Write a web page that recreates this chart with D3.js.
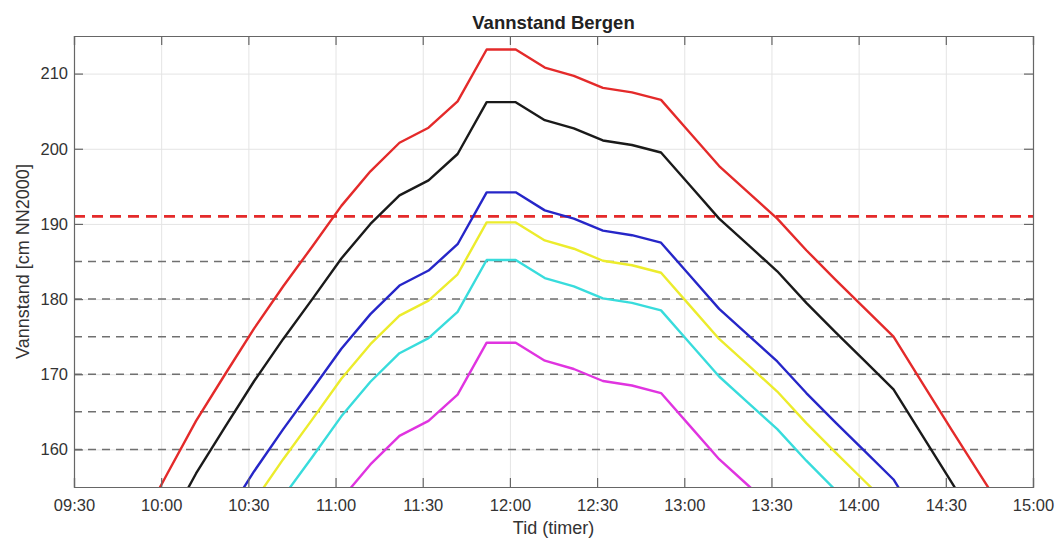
<!DOCTYPE html>
<html>
<head>
<meta charset="utf-8">
<script src="https://cdn.jsdelivr.net/npm/d3@7"></script>
<style>
  body { margin: 0; background: #fff; }
  text { font-family: "Liberation Sans", Arial, sans-serif; fill: #333; }
</style>
</head>
<body>
<div id="chart"></div>
<script>
// tidspunkt (hh:mm) for alle seriene
var tider = ["09:52","10:02","10:12","10:22","10:32","10:42","10:52","11:02","11:12","11:22",
             "11:32","11:42","11:52","12:02","12:12","12:22","12:32","12:42","12:52","13:02",
             "13:12","13:22","13:32","13:42","13:52","14:02","14:12","14:22","14:32","14:42","14:52"];

// vannstand per serie (cm NN2000)
var rod = [149.5,156.7,163.8,170.0,176.1,181.7,187.0,192.4,197.0,200.8,
           202.8,206.3,213.2,213.2,210.8,209.7,208.1,207.5,206.5,202.1,
           197.7,194.2,190.7,186.5,182.6,178.8,175.0,168.8,162.6,156.5,150.5];
var svart = [142.5,149.7,156.8,163.0,169.1,174.7,180.0,185.4,190.0,193.8,
             195.8,199.3,206.2,206.2,203.8,202.7,201.1,200.5,199.5,195.1,
             190.7,187.2,183.7,179.5,175.6,171.8,168.0,161.8,155.6,149.5,143.5];
var bla = [130.5,137.7,144.8,151.0,157.1,162.7,168.0,173.4,178.0,181.8,
           183.8,187.3,194.2,194.2,191.8,190.7,189.1,188.5,187.5,183.1,
           178.7,175.2,171.7,167.5,163.6,159.8,156.0,149.8,143.6,137.5,131.5];
var gul = [126.5,133.7,140.8,147.0,153.1,158.7,164.0,169.4,174.0,177.8,
           179.8,183.3,190.2,190.2,187.8,186.7,185.1,184.5,183.5,179.1,
           174.7,171.2,167.7,163.5,159.6,155.8,152.0,145.8,139.6,133.5,127.5];
var cyan = [121.5,128.7,135.8,142.0,148.1,153.7,159.0,164.4,169.0,172.8,
            174.8,178.3,185.2,185.2,182.8,181.7,180.1,179.5,178.5,174.1,
            169.7,166.2,162.7,158.5,154.6,150.8,147.0,140.8,134.6,128.5,122.5];
var magenta = [110.5,117.7,124.8,131.0,137.1,142.7,148.0,153.4,158.0,161.8,
               163.8,167.3,174.2,174.2,171.8,170.7,169.1,168.5,167.5,163.1,
               158.7,155.2,151.7,147.5,143.6,139.8,136.0,129.8,123.6,117.5,111.5];

// horisontale nivaalinjer
var rodNivaa = [191];
var graaNivaa = [185, 180, 175, 170, 165, 160];

// akser
var xTicks = ["09:30","10:00","10:30","11:00","11:30","12:00","12:30","13:00","13:30","14:00","14:30","15:00"];
var yTicks = [160, 170, 180, 190, 200, 210];

var serier = [
  {navn: "rod", verdier: rod, farge: "#e42a2a"},
  {navn: "svart", verdier: svart, farge: "#1a1a1a"},
  {navn: "bla", verdier: bla, farge: "#2626c8"},
  {navn: "gul", verdier: gul, farge: "#ecec2c"},
  {navn: "cyan", verdier: cyan, farge: "#38dcdc"},
  {navn: "magenta", verdier: magenta, farge: "#e034e0"}
];

var W = 1062, H = 541;
var margin = {top: 36, right: 29, bottom: 54, left: 74};
var w = W - margin.left - margin.right;
var h = H - margin.top - margin.bottom;

var parse = d3.timeParse("%H:%M");
var fmt = d3.timeFormat("%H:%M");

var x = d3.scaleTime()
  .domain([parse("09:30"), parse("15:00")])
  .range([0, w]);
var y = d3.scaleLinear()
  .domain([155, 215])
  .range([h, 0]);

var svg = d3.select("#chart").append("svg")
  .attr("width", W)
  .attr("height", H);

var g = svg.append("g")
  .attr("transform", "translate(" + margin.left + "," + margin.top + ")");

g.append("clipPath").attr("id", "klipp")
  .append("rect").attr("width", w).attr("height", h);

//grid
var xGrid = g.append("g").attr("class", "grid")
  .attr("transform", "translate(0," + h + ")")
  .call(d3.axisBottom(x).tickValues(xTicks.map(parse)).tickSize(-h).tickFormat(""));
var yGrid = g.append("g").attr("class", "grid")
  .call(d3.axisLeft(y).tickValues(yTicks).tickSize(-w).tickFormat(""));
g.selectAll(".grid .domain").remove();
g.selectAll(".grid line").attr("stroke", "#e4e4e4").attr("stroke-width", 1);

// stiplede nivaalinjer
g.selectAll(".graa").data(graaNivaa).enter().append("line")
  .attr("class", "graa")
  .attr("x1", 0).attr("x2", w)
  .attr("y1", function(d) { return y(d); })
  .attr("y2", function(d) { return y(d); })
  .attr("stroke", "#707070")
  .attr("stroke-width", 1.5)
  .attr("stroke-dasharray", "8,6");

g.selectAll(".rodlinje").data(rodNivaa).enter().append("line")
  .attr("class", "rodlinje")
  .attr("x1", 0).attr("x2", w)
  .attr("y1", function(d) { return y(d); })
  .attr("y2", function(d) { return y(d); })
  .attr("stroke", "#e42a2a")
  .attr("stroke-width", 2.6)
  .attr("stroke-dasharray", "11,7");

// kurvene
var line = d3.line()
  .x(function(d, i) { return x(parse(tider[i])); })
  .y(function(d) { return y(d); });

g.append("g").attr("clip-path", "url(#klipp)")
  .selectAll("path").data(serier).enter().append("path")
  .attr("d", function(s) { return line(s.verdier); })
  .attr("fill", "none")
  .attr("stroke", function(s) { return s.farge; })
  .attr("stroke-width", 2.4)
  .attr("stroke-linejoin", "round");

// akser med tikk innover
var xAxis = g.append("g")
  .attr("transform", "translate(0," + h + ")")
  .call(d3.axisBottom(x).tickValues(xTicks.map(parse)).tickFormat(fmt).tickSize(-9).tickPadding(12));
var xTop = g.append("g")
  .call(d3.axisTop(x).tickValues(xTicks.map(parse)).tickFormat("").tickSize(-9));
var yAxis = g.append("g")
  .call(d3.axisLeft(y).tickValues(yTicks).tickSize(-9).tickPadding(6));
var yRight = g.append("g")
  .attr("transform", "translate(" + w + ",0)")
  .call(d3.axisRight(y).tickValues(yTicks).tickFormat("").tickSize(-9));

[xAxis, xTop, yAxis, yRight].forEach(function(a) {
  a.selectAll(".domain").attr("stroke", "#666").attr("stroke-width", 1.2);
  a.selectAll(".tick line").attr("stroke", "#666").attr("stroke-width", 1.2);
  a.selectAll("text").style("font-size", "16.5px").style("font-family", "'Liberation Sans', Arial, sans-serif").attr("fill", "#333");
});

// titler
svg.append("text")
  .attr("x", margin.left + w / 2)
  .attr("y", 29)
  .attr("text-anchor", "middle")
  .style("font-size", "18.5px")
  .style("font-weight", "bold")
  .style("fill", "#222")
  .text("Vannstand Bergen");

svg.append("text")
  .attr("x", margin.left + w / 2)
  .attr("y", 534)
  .attr("text-anchor", "middle")
  .style("font-size", "18px")
  .text("Tid (timer)");

svg.append("text")
  .attr("transform", "translate(29," + (margin.top + h / 2) + ") rotate(-90)")
  .attr("text-anchor", "middle")
  .style("font-size", "18px")
  .text("Vannstand [cm NN2000]");
</script>
</body>
</html>
